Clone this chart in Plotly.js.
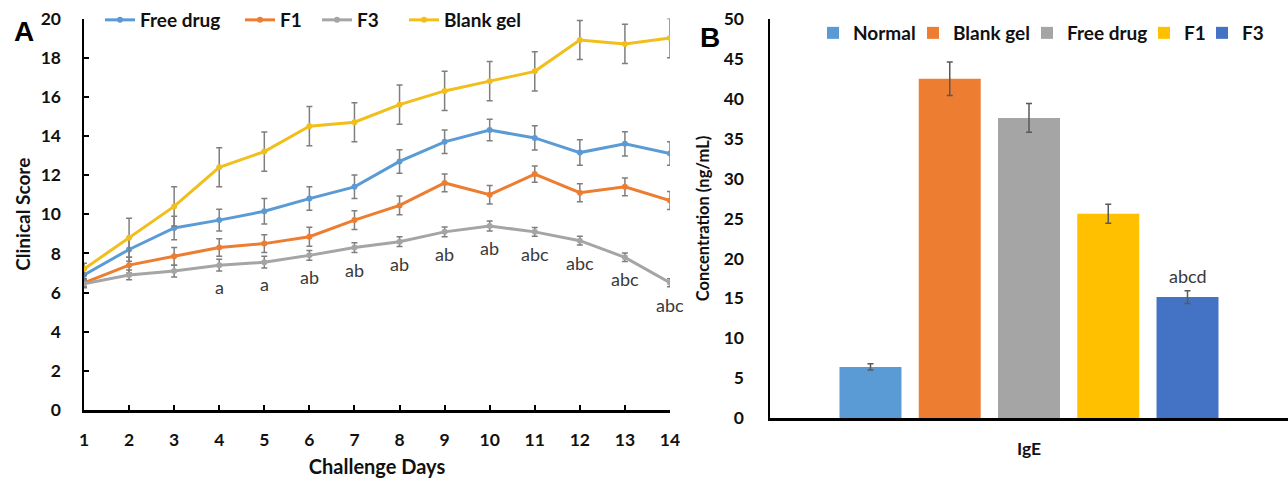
<!DOCTYPE html>
<html>
<head>
<meta charset="utf-8">
<script src="https://cdn.plot.ly/plotly-3.0.1.min.js"></script>
<style>html,body{margin:0;padding:0;background:#fff;}#chart{width:1288px;height:482px;}</style>
</head>
<body>
<div id="chart"></div>
<script>
// ---------- Panel A data ----------
const days = [1,2,3,4,5,6,7,8,9,10,11,12,13,14];
const freeDrug    = [6.9,8.2,9.3,9.7,10.15,10.8,11.4,12.7,13.7,14.3,13.9,13.15,13.6,13.1];
const freeDrugErr = [0.3,0.6,0.6,0.56,0.65,0.6,0.6,0.6,0.6,0.55,0.62,0.65,0.62,0.6];
const f1          = [6.5,7.4,7.85,8.3,8.5,8.85,9.7,10.45,11.6,11.0,12.05,11.1,11.4,10.7];
const f1Err       = [0.2,0.4,0.45,0.45,0.45,0.48,0.48,0.48,0.45,0.47,0.42,0.46,0.45,0.46];
const f3          = [6.45,6.9,7.1,7.4,7.55,7.9,8.3,8.6,9.1,9.4,9.1,8.65,7.8,6.5];
const f3Err       = [0.2,0.25,0.3,0.3,0.3,0.25,0.25,0.25,0.25,0.25,0.22,0.22,0.22,0.2];
const blankGel    = [7.2,8.8,10.4,12.4,13.2,14.5,14.7,15.6,16.3,16.8,17.3,18.9,18.7,19.0];
const blankGelErr = [0.3,1.0,1.0,1.0,1.0,1.0,1.0,1.0,1.0,1.0,1.0,1.0,1.0,1.0];
const sigLabels   = ['','','','a','a','ab','ab','ab','ab','ab','abc','abc','abc','abc'];
const lineSeries  = ['Free drug','F1','F3','Blank gel'];

// ---------- Panel B data ----------
const groups    = ['Normal','Blank gel','Free drug','F1','F3'];
const igeValues = [6.4,42.5,37.6,25.6,15.15];
const igeErr    = [0.4,2.1,1.8,1.2,0.8];
const barLabels = ['','','','','abcd'];
const category  = 'IgE';

const lineColors = ['#5B9BD5','#ED7D31','#A5A5A5','#F2BE1B'];
const barColors  = ['#5B9BD5','#ED7D31','#A5A5A5','#FFC000','#4472C4'];

const FONT = 'Lato, "Open Sans", sans-serif';
const W = 1288, H = 482;

// legend placement (pixels from left) for each entry
const lineLegendX = [100, 240, 317, 404];
const barLegendX  = [813, 913, 1027, 1144, 1202];

const lineData = [[freeDrug,freeDrugErr],[f1,f1Err],[f3,f3Err],[blankGel,blankGelErr]];
const traces = [];
lineSeries.forEach((name,i)=>{
  traces.push({
    type:'scatter', mode:'lines+markers', name:name, x:days, y:lineData[i][0],
    line:{color:lineColors[i], width:3},
    marker:{color:lineColors[i], size:6},
    error_y:{type:'data', array:lineData[i][1], visible:true, color:'#7f7f7f', thickness:1.5, width:3},
    xaxis:'x', yaxis:'y', legend: i===0 ? 'legend' : 'legend'+(i+1)
  });
});
groups.forEach((g,i)=>{
  traces.push({
    type:'bar', name:g, x:[category], y:[igeValues[i]],
    marker:{color:barColors[i]},
    error_y:{type:'data', array:[igeErr[i]], visible:true, color:'#595959', thickness:1.5, width:3},
    xaxis:'x2', yaxis:'y2', legend:'legend'+(i+5)
  });
});

const bargap = 0.235;
const annotations = [];
sigLabels.forEach((t,i)=>{
  if(!t) return;
  annotations.push({xref:'x', yref:'y', x:days[i], y:f3[i], yshift:-22, text:t, showarrow:false,
    font:{family:FONT, size:18, color:'#3a3a3a'}, xanchor:'center', yanchor:'middle'});
});
barLabels.forEach((t,i)=>{
  if(!t) return;
  const off = (i - (groups.length-1)/2) * (1-bargap)/groups.length;
  annotations.push({xref:'x2', yref:'y2', x:off, y:igeValues[i]+igeErr[i], yshift:15, text:t, showarrow:false,
    font:{family:FONT, size:18, color:'#3a3a3a'}, xanchor:'center', yanchor:'middle'});
});
annotations.push({xref:'paper', yref:'paper', x:24/W, y:1-32/H, text:'<b>A</b>', showarrow:false,
  font:{family:'"Liberation Sans", Arial, sans-serif', size:28, color:'#000'}, xanchor:'center', yanchor:'middle'});
annotations.push({xref:'paper', yref:'paper', x:710/W, y:1-38/H, text:'<b>B</b>', showarrow:false,
  font:{family:'"Liberation Sans", Arial, sans-serif', size:28, color:'#000'}, xanchor:'center', yanchor:'middle'});

const tickFont = {family:FONT, size:17.5, color:'#111', weight:'bold'};
const legendFont = {family:FONT, size:19, color:'#111', weight:'bold'};

const layout = {
  width:W, height:H,
  margin:{l:0, r:0, t:0, b:0},
  paper_bgcolor:'#fff', plot_bgcolor:'#fff',
  showlegend:true,
  barmode:'group', bargap:bargap, bargroupgap:0.218,
  xaxis:{
    domain:[84/W, 670/W], range:[1,14], tickmode:'linear', tick0:1, dtick:1,
    showgrid:false, zeroline:false, showline:true, linecolor:'#000', linewidth:2.5,
    ticks:'inside', ticklen:5, tickwidth:2, tickcolor:'#000',
    tickfont:tickFont, ticklabelstandoff:12, automargin:false,
    title:{text:'Challenge Days', font:{family:FONT, size:20, color:'#111', weight:'bold'}, standoff:12}
  },
  yaxis:{
    domain:[72/H, (H-18.5)/H], range:[0,20], tickmode:'linear', tick0:0, dtick:2,
    showgrid:false, zeroline:false, showline:true, linecolor:'#000', linewidth:2.5,
    ticks:'inside', ticklen:5, tickwidth:2, tickcolor:'#000',
    tickfont:tickFont, ticklabelstandoff:17, automargin:false,
    title:{text:'Clinical Score', font:{family:FONT, size:19, color:'#111', weight:'bold'}, standoff:5}
  },
  xaxis2:{
    domain:[770/W, 1], type:'category', range:[-0.5, 0.5],
    showgrid:false, zeroline:false, showline:true, linecolor:'#000', linewidth:2.5,
    ticks:'', tickfont:tickFont, ticklabelstandoff:13, automargin:false,
    anchor:'y2'
  },
  yaxis2:{
    domain:[64/H, (H-19)/H], range:[0,50], tickmode:'linear', tick0:0, dtick:5,
    showgrid:false, zeroline:false, showline:true, linecolor:'#000', linewidth:2.5,
    ticks:'', tickfont:tickFont, ticklabelstandoff:20, automargin:false,
    title:{text:'Concentration (ng/mL)', font:{family:FONT, size:16.5, color:'#111', weight:'bold'}, standoff:10},
    anchor:'x2'
  },
  annotations:annotations
};

lineLegendX.forEach((px,i)=>{
  layout[i===0 ? 'legend' : 'legend'+(i+1)] = {
    orientation:'h', x:px/W, xanchor:'left', y:1-20/H, yanchor:'middle',
    font:legendFont, bgcolor:'rgba(0,0,0,0)', borderwidth:0
  };
});
barLegendX.forEach((px,i)=>{
  layout['legend'+(i+5)] = {
    orientation:'h', x:px/W, xanchor:'left', y:1-33/H, yanchor:'middle',
    font:legendFont, bgcolor:'rgba(0,0,0,0)', borderwidth:0
  };
});

Plotly.newPlot('chart', traces, layout, {displayModeBar:false, staticPlot:true});
</script>
</body>
</html>
